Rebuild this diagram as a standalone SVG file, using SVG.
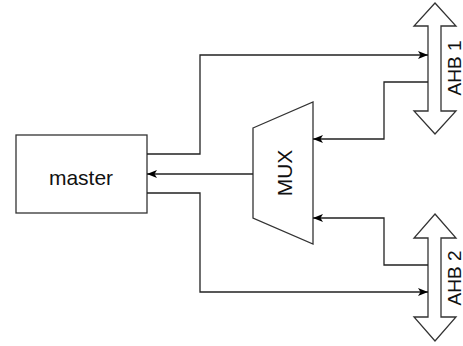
<svg xmlns="http://www.w3.org/2000/svg" width="463" height="346" viewBox="0 0 463 346">
  <style>
    .shape { fill: #ffffff; stroke: #333333; stroke-width: 1.3; }
    .edge { fill: none; stroke: #222222; stroke-width: 1.3; }
    .label { font-family: "Liberation Sans", Arial, sans-serif; font-size: 21px; fill: #111111; text-anchor: middle; dominant-baseline: central; }
    .side { font-size: 19px; }
  </style>
  <defs>
    <marker id="arrow" markerUnits="userSpaceOnUse" markerWidth="11" markerHeight="9" refX="10" refY="4" orient="auto">
      <path d="M0,0 L10,4 L0,8 L2.5,4 Z" fill="#000000"/>
    </marker>
  </defs>
  <rect width="463" height="346" fill="#ffffff"/>
  <g id="master">
    <rect class="shape" x="16" y="135" width="131" height="78"/>
    <text class="label" x="81" y="177">master</text>
  </g>
  <g id="mux">
    <polygon class="shape" points="253,128 313,102 313,244 253,218"/>
    <text class="label" x="284" y="173" transform="rotate(-90 284 173)">MUX</text>
  </g>
  <g id="ahb1">
    <polygon class="shape" points="435,3 456,26 441,26 441,111 456,111 435,134 414,111 428,111 428,26 414,26"/>
    <text class="label side" x="454" y="68" transform="rotate(-90 454 68)">AHB 1</text>
  </g>
  <g id="ahb2">
    <polygon class="shape" points="435,214 456,238 441,238 441,317 456,317 435,341 414,317 428,317 428,238 414,238"/>
    <text class="label side" x="454" y="278" transform="rotate(-90 454 278)">AHB 2</text>
  </g>
  <g id="connectors">
    <polyline class="edge" points="147,154 200,154 200,55 428,55" marker-end="url(#arrow)"/>
    <polyline class="edge" points="428,82 384,82 384,139 313,139" marker-end="url(#arrow)"/>
    <polyline class="edge" points="253,174 147,174" marker-end="url(#arrow)"/>
    <polyline class="edge" points="428,265 384,265 384,218 313,218" marker-end="url(#arrow)"/>
    <polyline class="edge" points="147,193 200,193 200,292 428,292" marker-end="url(#arrow)"/>
  </g>
</svg>
